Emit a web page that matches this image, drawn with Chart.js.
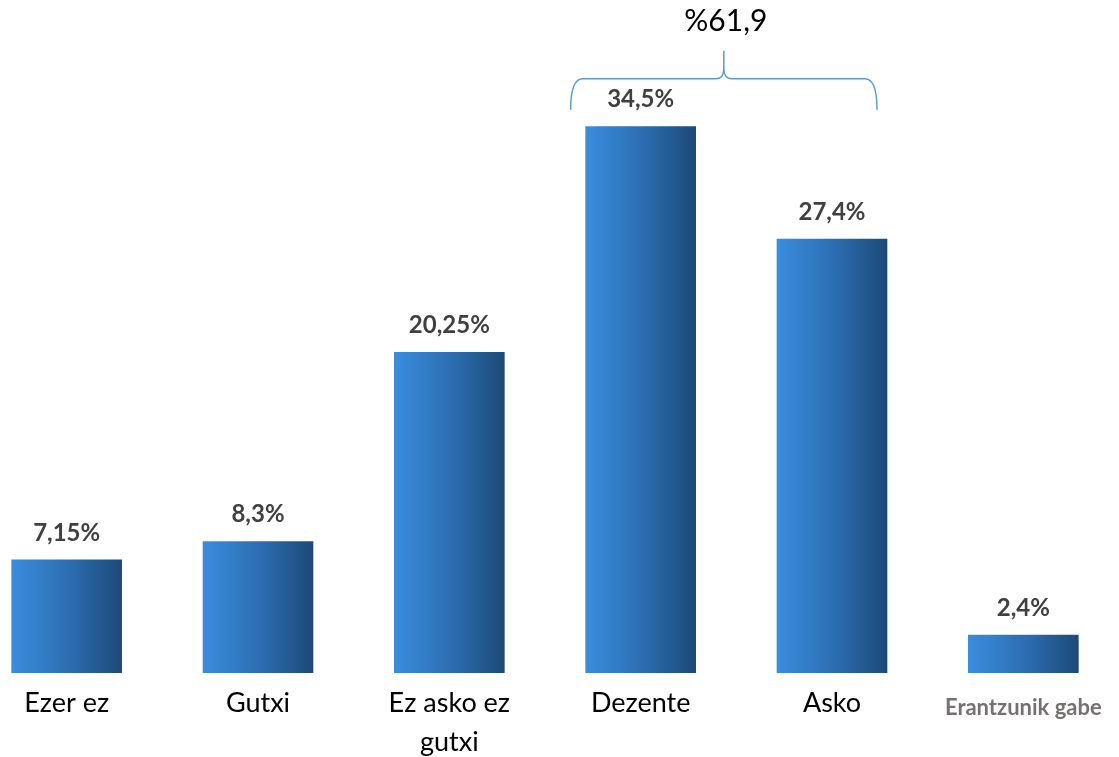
<!DOCTYPE html>
<html>
<head>
<meta charset="utf-8">
<script src="https://cdn.jsdelivr.net/npm/chart.js@4/dist/chart.umd.min.js"></script>
<style>
  html, body { margin: 0; padding: 0; background: #fff; overflow: hidden; width: 1119px; height: 757px; }
  #wrap { position: absolute; left: -29px; top: 0; width: 1148px; height: 757px; }
</style>
</head>
<body>
<div id="wrap"><canvas id="c"></canvas></div>
<script>
const categories = [["Ezer ez"], ["Gutxi"], ["Ez asko ez", "gutxi"], ["Dezente"], ["Asko"], ["Erantzunik gabe"]];
const values = [7.15, 8.3, 20.25, 34.5, 27.4, 2.4];
const bracketIndices = [3, 4];

const fmt = v => String(v).replace('.', ',') + '%';

const labelsPlugin = {
  id: 'valueLabels',
  afterDatasetsDraw(chart) {
    const ctx = chart.ctx;
    const meta = chart.getDatasetMeta(0);
    ctx.save();
    ctx.font = 'bold 24px Lato';
    ctx.fillStyle = '#404040';
    ctx.textAlign = 'center';
    ctx.textBaseline = 'middle';
    meta.data.forEach((el, i) => {
      ctx.fillText(fmt(values[i]), el.x, el.y - 27);
    });
    // brace
    const a = meta.data[bracketIndices[0]], b = meta.data[bracketIndices[1]];
    const L = a.x - a.width / 2 - 15;
    const R = b.x + b.width / 2 - 10;
    const M = (L + R) / 2;
    const B = a.y - 17, H = a.y - 48, P = a.y - 76;
    ctx.strokeStyle = '#5B9BD5';
    ctx.lineWidth = 1.5;
    ctx.beginPath();
    ctx.moveTo(L, B);
    ctx.quadraticCurveTo(L, H, L + 12, H);
    ctx.lineTo(M - 8, H);
    ctx.quadraticCurveTo(M, H, M, H - 10);
    ctx.lineTo(M, P);
    ctx.moveTo(M, H - 10);
    ctx.quadraticCurveTo(M, H, M + 8, H);
    ctx.lineTo(R - 12, H);
    ctx.quadraticCurveTo(R, H, R, B);
    ctx.stroke();
    const total = bracketIndices.reduce((s, i) => s + values[i], 0);
    ctx.font = '30px Lato';
    ctx.fillStyle = '#000000';
    ctx.fillText('%' + total.toFixed(1).replace('.', ','), M + 2, P - 29);
    ctx.restore();
  }
};

new Chart(document.getElementById('c'), {
  type: 'bar',
  data: {
    labels: categories,
    datasets: [{
      data: values,
      barThickness: 110,
      backgroundColor: (c) => {
        const chart = c.chart;
        if (!chart.chartArea || c.dataIndex === undefined) return '#2F75B5';
        const x = chart.scales.x.getPixelForValue(c.dataIndex);
        const g = chart.ctx.createLinearGradient(x - 55, 0, x + 55, 0);
        g.addColorStop(0, '#3A8DDE');
        g.addColorStop(0.5, '#2C6FB4');
        g.addColorStop(1, '#1D4A78');
        return g;
      },
      borderWidth: 0
    }]
  },
  options: {
    responsive: true,
    maintainAspectRatio: false,
    animation: false,
    layout: { padding: 0 },
    plugins: { legend: { display: false }, tooltip: { enabled: false } },
    scales: {
      x: {
        grid: { display: false },
        border: { display: false },
        afterFit: (s) => { s.height = 84; },
        ticks: {
          autoSkip: false,
          maxRotation: 0,
          padding: 3,
          color: (c) => c.index === 5 ? '#767171' : '#000000',
          font: (c) => c.index === 5
            ? { family: 'Lato', size: 22, weight: 'bold', lineHeight: 2.2 }
            : { family: 'Lato', size: 27, lineHeight: 1.45 }
        }
      },
      y: {
        display: false,
        min: 0,
        max: 42.5
      }
    }
  },
  plugins: [labelsPlugin]
});
</script>
</body>
</html>
